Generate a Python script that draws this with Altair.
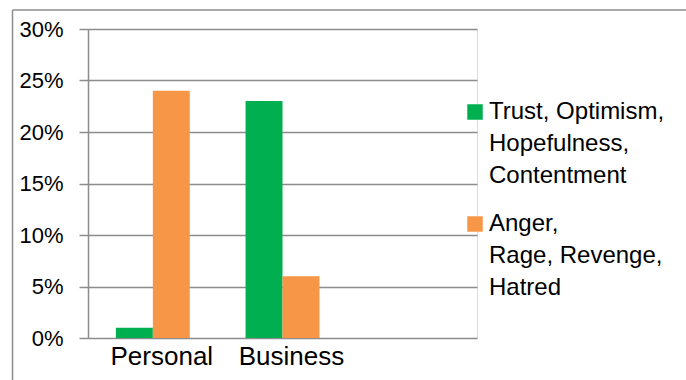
import altair as alt
import pandas as pd

# ---- data ----
categories = ["Personal", "Business"]
axis_slots = ["Personal", "Business", " "]
series = [
    "Trust, Optimism,|Hopefulness,|Contentment",
    "Anger,|Rage, Revenge,|Hatred",
]
trust_values = [0.01, 0.23]
anger_values = [0.24, 0.06]
colors = ["#00B050", "#F79646"]
y_ticks = [0, 0.05, 0.10, 0.15, 0.20, 0.25, 0.30]

rows = []
for i, c in enumerate(categories):
    rows.append({"category": c, "series": series[0], "value": trust_values[i]})
    rows.append({"category": c, "series": series[1], "value": anger_values[i]})
df = pd.DataFrame(rows)

grid = "#8c8c8c"
font = "Liberation Sans"

bars = alt.Chart(df).mark_bar().encode(
    x=alt.X(
        "category:N",
        sort=axis_slots,
        scale=alt.Scale(domain=axis_slots, paddingInner=0.43, paddingOuter=0.215),
        axis=alt.Axis(
            title=None, labelAngle=0, domain=False, ticks=False, grid=False,
            labelFont=font, labelFontSize=26, labelColor="black",
            labelPadding=5, labelOffset=9,
        ),
    ),
    xOffset=alt.XOffset(
        "series:N", sort=series,
        scale=alt.Scale(domain=series, paddingInner=0, paddingOuter=0),
    ),
    y=alt.Y(
        "value:Q",
        scale=alt.Scale(domain=[0, 0.3]),
        axis=alt.Axis(
            title=None, format="%", values=y_ticks,
            grid=True, gridColor=grid, gridWidth=1.5,
            domain=True, domainColor=grid, domainWidth=1.5,
            ticks=True, tickSize=9, tickColor=grid, tickWidth=1.5,
            labelFont=font, labelFontSize=22, labelColor="black",
            labelPadding=16,
        ),
    ),
    color=alt.Color(
        "series:N",
        sort=series,
        scale=alt.Scale(domain=series, range=colors),
        legend=alt.Legend(
            title=None, orient="none", legendX=375, legendY=71, padding=0,
            symbolType="square", symbolSize=240, symbolStrokeWidth=0,
            labelFont=font, labelFontSize=24, labelColor="black",
            labelOffset=2, labelLimit=400, rowPadding=24,
            labelExpr="split(datum.label, '|')",
        ),
    ),
)

frame_src = pd.DataFrame({"k": [0]})
top_line = alt.Chart(frame_src).mark_rule(color=grid, strokeWidth=1.5).encode(
    x=alt.value(-75.5), x2=alt.value(600), y=alt.value(-19)
)
left_line = alt.Chart(frame_src).mark_rule(color=grid, strokeWidth=1.5).encode(
    x=alt.value(-75.5), y=alt.value(-19), y2=alt.value(360)
)

chart = (
    alt.layer(bars, top_line, left_line)
    .properties(
        width=389, height=309,
        autosize=alt.AutoSizeParams(type="none"),
        padding={"left": 88, "top": 29, "right": 209, "bottom": 42},
        background="white",
    )
    .configure_view(stroke=None)
    .configure(style={"guide-label": {"lineHeight": 32}})
)

chart.save("out.html", embed_options={"renderer": "svg", "actions": False})
